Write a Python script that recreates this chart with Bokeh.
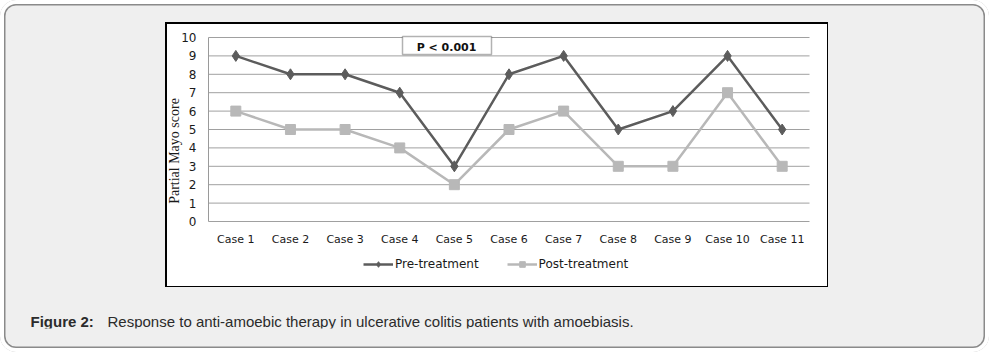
import math
from bokeh.plotting import figure
from bokeh.models import (BoxAnnotation, Label, Legend, LegendItem,
                          ColumnDataSource, FactorRange, Range1d)
from bokeh.embed import file_html
from bokeh.resources import INLINE

# ---- data ----
cases = ["Case 1", "Case 2", "Case 3", "Case 4", "Case 5", "Case 6",
         "Case 7", "Case 8", "Case 9", "Case 10", "Case 11"]
pre_treatment = [9, 8, 8, 7, 3, 8, 9, 5, 6, 9, 5]
post_treatment = [6, 5, 5, 4, 2, 5, 6, 3, 3, 7, 3]
y_ticks = [0, 1, 2, 3, 4, 5, 6, 7, 8, 9, 10]
y_title = "Partial Mayo score"
p_text = "P < 0.001"
caption_bold = "Figure 2:"
caption_text = "Response to anti-amoebic therapy in ulcerative colitis patients with amoebiasis."

PRE_COLOR = "#5c5c5c"
POST_COLOR = "#b8b8b8"
GRID_COLOR = "#a0a0a0"

# ---- layout geometry (pixels) ----
W, H = 989, 352
PLOT_L, PLOT_R = 208, 809          # edges of the category band
Y0_PX, Y10_PX = 221, 37            # pixel rows of y=0 and y=10
FRAME_T = 28                       # frame starts a little above y=10 so "10" is not clipped
FRAME_B = 328                      # frame extended down to hold legend + caption
pad_px = W - PLOT_R                # symmetric padding on both sides
FRAME_L = PLOT_L - pad_px
unit_px = (PLOT_R - PLOT_L) / len(cases)
px_per_y = (Y0_PX - Y10_PX) / 10.0
y_start = -(FRAME_B - Y0_PX) / px_per_y
y_end = 10 + (Y10_PX - FRAME_T) / px_per_y

src = ColumnDataSource(dict(case=cases, pre=pre_treatment, post=post_treatment))

card_css = {
    "background": ("linear-gradient(white, white) 166.5px 23.5px / 660px 262px no-repeat, "
                   "linear-gradient(black, black) 165px 22px / 663px 265px no-repeat, "
                   "#efefef"),
    "border-radius": "16px",
    "box-shadow": "inset 0 0 0 4px white, inset 0 0 0 5.5px #8a8a8a",
}

p = figure(width=W, height=H,
           x_range=FactorRange(*cases, range_padding=pad_px / unit_px,
                               range_padding_units="absolute"),
           y_range=Range1d(y_start, y_end),
           output_backend="svg", toolbar_location=None,
           min_border_left=FRAME_L, min_border_right=0,
           min_border_top=FRAME_T, min_border_bottom=H - FRAME_B,
           styles=card_css)
p.border_fill_color = None
p.background_fill_color = None
p.outline_line_color = None
p.xgrid.visible = False
p.ygrid.visible = False

# gridlines only across the category band
p.segment(x0=0, x1=len(cases), y0=y_ticks, y1=y_ticks,
          line_color=GRID_COLOR, line_width=1)

# axes fixed at the data origin
p.yaxis.ticker = y_ticks
p.yaxis.bounds = (0, 10)
p.yaxis.fixed_location = 0
p.xaxis.fixed_location = 0
p.xaxis.axis_line_color = None
p.yaxis.axis_line_color = "#9a9a9a"
for ax in (p.xaxis, p.yaxis):
    ax.major_tick_line_color = None
    ax.minor_tick_line_color = None
    ax.major_tick_out = 0
    ax.major_tick_in = 0
    ax.minor_tick_out = 0
    ax.minor_tick_in = 0
p.xaxis.major_label_standoff = 11
p.yaxis.major_label_standoff = 12
p.xaxis.major_label_text_font = "DejaVu Sans"
p.xaxis.major_label_text_font_size = "11px"
p.xaxis.major_label_text_color = "#1a1a1a"
p.yaxis.major_label_text_font = "DejaVu Sans"
p.yaxis.major_label_text_font_size = "12px"
p.yaxis.major_label_text_color = "#1a1a1a"

# series
l_pre = p.line(x="case", y="pre", source=src, line_color=PRE_COLOR, line_width=2.5)
m_pre = p.scatter(x="case", y="pre", source=src, marker="diamond", size=11,
                  fill_color=PRE_COLOR, line_color=PRE_COLOR)
l_post = p.line(x="case", y="post", source=src, line_color=POST_COLOR, line_width=2.5)
m_post = p.scatter(x="case", y="post", source=src, marker="square", size=10,
                   fill_color=POST_COLOR, line_color=POST_COLOR)

legend = Legend(items=[LegendItem(label="Pre-treatment", renderers=[l_pre, m_pre]),
                       LegendItem(label="Post-treatment", renderers=[l_post, m_post])],
                location=(363 - FRAME_L, FRAME_B - 271), orientation="horizontal",
                glyph_width=30, glyph_height=14, label_height=14,
                label_standoff=2, spacing=28, padding=0, margin=0,
                border_line_color=None, background_fill_alpha=0,
                label_text_font="DejaVu Sans", label_text_font_size="12px",
                label_text_color="#1a1a1a")
p.add_layout(legend)

# y-axis title
p.add_layout(Label(x=174, y=150.5, x_units="canvas", y_units="canvas",
                   text=y_title, angle=math.pi / 2, text_align="center",
                   text_baseline="middle", text_font="Liberation Serif",
                   text_font_size="14px", text_color="#1a1a1a"))

# P value box
p.add_layout(BoxAnnotation(left=402, right=491, top=36, bottom=54,
                           left_units="canvas", right_units="canvas",
                           top_units="canvas", bottom_units="canvas",
                           fill_color="white", fill_alpha=1,
                           line_color="black", line_width=1.5))
p.add_layout(Label(x=446, y=47, x_units="canvas", y_units="canvas",
                   text=p_text, text_align="center", text_baseline="middle",
                   text_font="DejaVu Sans", text_font_style="bold",
                   text_font_size="11px", text_color="#111111"))

# caption (kept inside the frame so it is not clipped)
p.add_layout(Label(x=30, y=312, x_units="canvas", y_units="canvas",
                   text=caption_bold, text_align="left", text_baseline="top",
                   text_font="Liberation Sans", text_font_style="bold",
                   text_font_size="15px", text_color="#2b2b2b"))
p.add_layout(Label(x=107, y=312, x_units="canvas", y_units="canvas",
                   text=caption_text, text_align="left", text_baseline="top",
                   text_font="Liberation Sans",
                   text_font_size="15px", text_color="#2b2b2b"))

open("out.html", "w").write(file_html(p, INLINE))
